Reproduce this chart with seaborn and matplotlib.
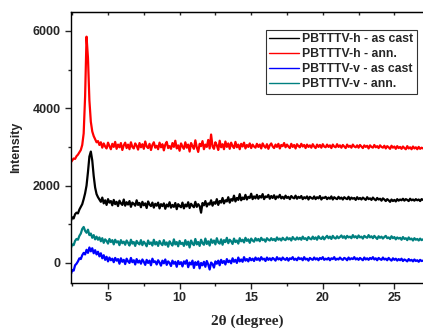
import numpy as np
import pandas as pd
import matplotlib
matplotlib.use('Agg')
import matplotlib.pyplot as plt
import seaborn as sns
from matplotlib.ticker import MultipleLocator

# 2theta scan grid (degree), 0.1 step, 2.4 .. 27.0
two_theta = np.round(np.arange(2.4, 27.001, 0.1), 1)

# PBTTTV-h - as cast (black), one row per degree starting at 2.4
h_cast = [
    1080, 1180, 1150, 1260, 1300, 1280, 1380, 1450, 1520, 1650,
    1800, 2000, 2350, 2750, 2880, 2650, 2250, 1950, 1780, 1700,
    1640, 1580, 1690, 1540, 1620, 1500, 1650, 1560, 1600, 1490,
    1630, 1520, 1580, 1470, 1610, 1540, 1500, 1640, 1480, 1570,
    1510, 1600, 1450, 1560, 1530, 1480, 1620, 1500, 1550, 1440,
    1580, 1490, 1540, 1420, 1590, 1510, 1470, 1560, 1430, 1530,
    1480, 1560, 1410, 1520, 1470, 1540, 1400, 1510, 1460, 1570,
    1430, 1500, 1450, 1550, 1390, 1520, 1470, 1440, 1560, 1410,
    1510, 1460, 1570, 1420, 1530, 1480, 1440, 1580, 1450, 1520,
    1470, 1300, 1550, 1490, 1600, 1460, 1540, 1510, 1620, 1480,
    1570, 1530, 1650, 1500, 1600, 1560, 1680, 1540, 1620, 1590,
    1700, 1560, 1650, 1610, 1740, 1590, 1680, 1630, 1780, 1620,
    1690, 1650, 1760, 1640, 1710, 1680, 1790, 1650, 1720, 1670,
    1760, 1660, 1730, 1690, 1780, 1650, 1720, 1700, 1760, 1660,
    1730, 1680, 1750, 1650, 1720, 1690, 1760, 1670, 1710, 1660,
    1740, 1680, 1710, 1650, 1730, 1690, 1670, 1740, 1660, 1710,
    1680, 1730, 1650, 1700, 1670, 1720, 1640, 1710, 1680, 1660,
    1720, 1650, 1700, 1670, 1730, 1640, 1690, 1680, 1710, 1650,
    1690, 1660, 1720, 1640, 1700, 1670, 1650, 1710, 1660, 1690,
    1640, 1700, 1670, 1650, 1710, 1640, 1690, 1660, 1680, 1630,
    1700, 1650, 1680, 1640, 1690, 1660, 1630, 1700, 1650, 1670,
    1630, 1690, 1650, 1620, 1680, 1640, 1660, 1610, 1670, 1640,
    1600, 1650, 1620, 1580, 1640, 1600, 1630, 1590, 1650, 1610,
    1640, 1620, 1660, 1610, 1650, 1630, 1600, 1660, 1620, 1640,
    1610, 1650, 1620, 1640, 1600, 1650, 1630,
]

# PBTTTV-h - ann. (red)
h_ann = [
    2600, 2650, 2700, 2690, 2760, 2800, 2860, 2920, 3050, 3350,
    4300, 5850, 5300, 4200, 3650, 3400, 3280, 3200, 3120, 3150,
    3050, 3120, 2980, 3090, 3010, 2960, 3110, 3020, 2940, 3080,
    3000, 3130, 2950, 3060, 2990, 3100, 2920, 3040, 3110, 2970,
    3060, 2940, 3120, 3000, 2960, 3090, 3030, 2930, 3100, 2990,
    3070, 2950, 3140, 3010, 2970, 3080, 2920, 3050, 3120, 2980,
    3030, 2940, 3110, 2990, 3070, 2910, 3060, 3130, 2970, 3020,
    2950, 3100, 3000, 3160, 2960, 3040, 2900, 3090, 3010, 2950,
    3120, 2980, 3060, 2880, 3100, 3020, 2950, 3170, 2990, 2870,
    3080, 3020, 3150, 2940, 3060, 3000, 3180, 2960, 3320, 3010,
    2950, 3120, 3040, 2920, 3160, 2990, 3070, 2940, 3140, 3000,
    3090, 2950, 3110, 3020, 2970, 3130, 2990, 3060, 2940, 3080,
    3010, 3110, 2960, 3050, 3000, 3090, 2970, 3060, 3010, 2980,
    3080, 3000, 3060, 2960, 3090, 3020, 2980, 3070, 2950, 3040,
    3090, 3010, 2970, 3060, 3000, 3080, 2960, 3050, 3020, 3100,
    2990, 3060, 3010, 2970, 3080, 3000, 3050, 2960, 3070, 3020,
    2990, 3080, 3010, 3050, 2970, 3060, 3000, 3040, 2980, 3070,
    3010, 2970, 3060, 3000, 3050, 2980, 3070, 3010, 2990, 3060,
    3000, 3040, 2970, 3060, 3010, 2990, 3070, 3000, 3040, 2980,
    3050, 3010, 2970, 3060, 3000, 3030, 2980, 3060, 3010, 2990,
    3040, 2980, 3050, 3010, 2970, 3040, 3000, 3030, 2960, 3040,
    3000, 2980, 3050, 2990, 3020, 2970, 3040, 3000, 2980, 3030,
    2960, 3020, 2990, 2950, 3030, 2980, 3010, 2950, 3020, 2970,
    3000, 2950, 3010, 2970, 2940, 3020, 2960, 2990, 2940, 3010,
    2960, 2990, 2940, 3000, 2950, 2980, 2960,
]

# PBTTTV-v - as cast (blue)
v_cast = [
    -300, -180, -200, -60, -20, 40, 120, 100, 200, 260,
    220, 340, 260, 400, 300, 380, 250, 330, 220, 290,
    170, 250, 120, 200, 80, 160, 40, 140, 70, 110,
    20, 130, 60, 100, -20, 120, 30, 80, -30, 110,
    40, 0, 130, 20, 70, -40, 100, 10, 60, -20,
    90, 30, -50, 80, 0, 60, -60, 110, 20, 40,
    -40, 70, 10, -70, 60, -10, 90, -50, 40, 0,
    -80, 60, -20, 30, -100, 50, -30, 20, -90, 40,
    -20, 70, -110, 10, -40, 60, -130, 20, -50, 40,
    -140, 0, -60, 30, -100, 50, -40, -170, 10, -30,
    -120, 40, -20, 60, -60, 80, 0, 50, -40, 100,
    20, 60, -10, 120, 30, 80, 0, 140, 40, 90,
    30, 150, 60, 100, 40, 130, 70, 110, 50, 140,
    80, 120, 60, 150, 90, 110, 50, 140, 80, 120,
    70, 130, 100, 60, 150, 90, 120, 70, 140, 100,
    80, 130, 60, 120, 100, 150, 80, 110, 70, 140,
    100, 120, 70, 150, 90, 110, 60, 130, 100, 80,
    140, 90, 120, 70, 130, 100, 150, 80, 110, 90,
    130, 70, 120, 100, 150, 80, 110, 90, 140, 100,
    80, 130, 110, 70, 140, 90, 120, 100, 150, 90,
    120, 80, 130, 100, 70, 140, 90, 120, 80, 130,
    100, 150, 90, 120, 70, 130, 100, 80, 140, 90,
    110, 70, 130, 90, 60, 120, 80, 110, 60, 100,
    70, 110, 50, 90, 70, 40, 100, 60, 80, 40,
    90, 50, 70, 30, 80, 50, 60,
]

# PBTTTV-v - ann. (teal)
v_ann = [
    380, 480, 460, 570, 620, 600, 700, 760, 880, 930,
    830, 780, 860, 720, 760, 650, 720, 610, 680, 600,
    660, 560, 640, 520, 610, 570, 500, 620, 540, 590,
    480, 600, 530, 560, 460, 590, 510, 550, 470, 580,
    520, 450, 600, 500, 540, 440, 570, 510, 480, 590,
    460, 550, 500, 430, 580, 490, 530, 450, 600, 480,
    540, 440, 570, 500, 460, 590, 470, 530, 420, 560,
    500, 450, 610, 480, 540, 430, 570, 490, 520, 440,
    590, 470, 550, 400, 580, 500, 460, 620, 480, 540,
    440, 600, 510, 470, 630, 490, 560, 450, 610, 520,
    580, 480, 640, 530, 500, 610, 470, 590, 540, 650,
    510, 600, 560, 490, 630, 540, 580, 500, 640, 560,
    600, 530, 650, 570, 610, 520, 630, 580, 550, 640,
    580, 620, 560, 650, 590, 610, 550, 640, 600, 580,
    640, 590, 620, 570, 660, 600, 630, 580, 650, 610,
    590, 660, 610, 640, 580, 670, 620, 600, 660, 610,
    650, 600, 680, 620, 640, 590, 670, 630, 610, 680,
    620, 660, 600, 690, 640, 620, 680, 610, 660, 700,
    640, 680, 620, 700, 650, 630, 690, 640, 670, 710,
    650, 690, 630, 700, 660, 680, 640, 720, 660, 690,
    640, 710, 660, 680, 630, 700, 670, 650, 720, 660,
    690, 640, 700, 660, 620, 690, 650, 680, 630, 670,
    700, 640, 660, 620, 690, 640, 670, 610, 660, 630,
    650, 600, 670, 620, 640, 590, 660, 610, 630, 580,
    640, 600, 620, 580, 630, 590, 610,
]

labels = ['PBTTTV-h - as cast', 'PBTTTV-h - ann.', 'PBTTTV-v - as cast', 'PBTTTV-v - ann.']
colors = ['#000000', '#ff0000', '#0000ff', '#008080']

frames = []
for lab, vals in zip(labels, [h_cast, h_ann, v_cast, v_ann]):
    frames.append(pd.DataFrame({'2theta': two_theta, 'Intensity': vals, 'sample': lab}))
df = pd.concat(frames, ignore_index=True)

sns.set_style('ticks')
plt.rcParams['font.family'] = ['Liberation Sans', 'DejaVu Sans']

fig = plt.figure(figsize=(4.23, 3.31), dpi=100)
ax = fig.add_axes([0.167, 0.146, 0.833, 0.818])

sns.lineplot(data=df, x='2theta', y='Intensity', hue='sample', palette=colors,
             hue_order=labels, estimator=None, sort=False, linewidth=1.6, ax=ax)

ax.set_xlim(2.39, 27.0)
ax.set_ylim(-510, 6490)
ax.xaxis.set_major_locator(MultipleLocator(5))
ax.xaxis.set_minor_locator(MultipleLocator(2.5))
ax.yaxis.set_major_locator(MultipleLocator(2000))
ax.yaxis.set_minor_locator(MultipleLocator(1000))
ax.tick_params(which='major', direction='out', length=4, width=1, labelsize=9, pad=3)
ax.tick_params(which='minor', direction='out', length=2.5, width=1)
for lbl in ax.get_xticklabels() + ax.get_yticklabels():
    lbl.set_fontweight('bold')

for s in ['left', 'bottom', 'top']:
    ax.spines[s].set_linewidth(1.0)
    ax.spines[s].set_color('black')
ax.spines['right'].set_visible(False)

# inward ticks on the top frame
secax = ax.secondary_xaxis('top')
secax.xaxis.set_major_locator(MultipleLocator(2.5))
secax.tick_params(direction='in', length=2.5, width=1, labeltop=False)

ax.set_ylabel('Intensity', fontsize=9, fontweight='bold', labelpad=8)
ax.set_xlabel('2θ (degree)', fontsize=11, fontweight='bold',
              family=['Liberation Serif', 'DejaVu Serif'], labelpad=7)

leg = ax.legend(loc='upper right', bbox_to_anchor=(0.983, 0.935), fontsize=8.8,
                frameon=True, fancybox=False, edgecolor='black', borderpad=0.3,
                handlelength=2.4, handletextpad=0.3, labelspacing=0.25,
                borderaxespad=0)
leg.get_frame().set_linewidth(0.8)
for t in leg.get_texts():
    t.set_fontweight('bold')
for h in leg.get_lines():
    h.set_linewidth(1.0)

fig.savefig('out.png', dpi=100)
